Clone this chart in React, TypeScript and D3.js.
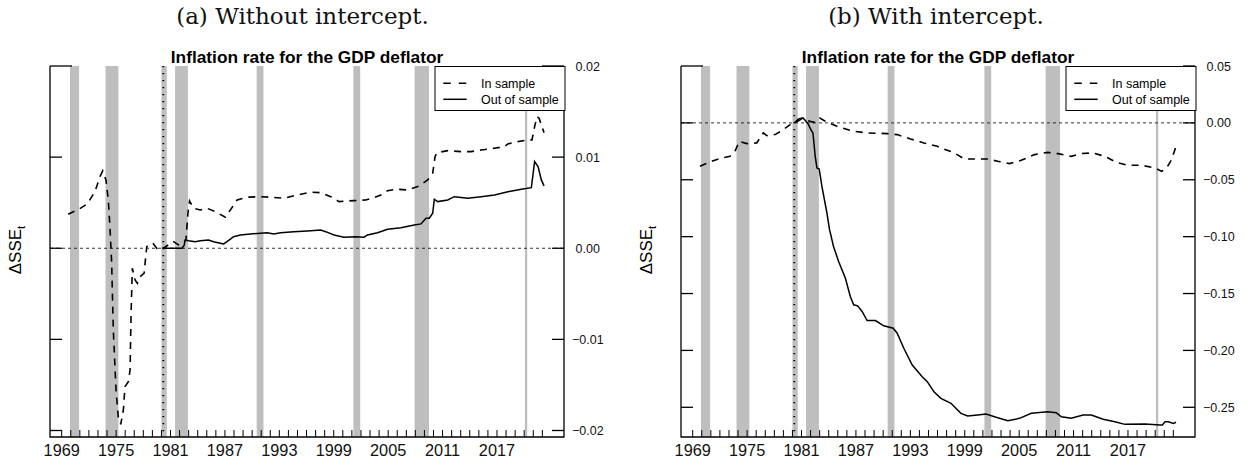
import React from 'react';
import * as d3 from 'd3';

// ---------- data ----------
const yearTickValues = d3.range(1969, 2023);
const yearLabelValues = [1969, 1975, 1981, 1987, 1993, 1999, 2005, 2011, 2017];
const xDomain: [number, number] = [1967.71, 2024.39];

// NBER recessions [start, end] in decimal years
const recessionStart = [1969.917, 1973.833, 1980.0, 1981.5, 1990.5, 2001.167, 2007.917, 2020.083];
const recessionEnd = [1970.917, 1975.25, 1980.583, 1982.917, 1991.25, 2001.917, 2009.5, 2020.333];
const splitYear = 1980.2;

const seriesNames = ['In sample', 'Out of sample'];

const yTicksA = [0.02, 0.01, 0.0, -0.01, -0.02];
const yTicksB = [0.05, 0.0, -0.05, -0.1, -0.15, -0.2, -0.25];

const inSampleA: [number, number][] = [
  [1969.71, 0.00373], [1970.9, 0.00428], [1971.81, 0.00486], [1972.67, 0.00621], [1973.22, 0.00786],
  [1973.52, 0.00849], [1973.88, 0.0075], [1974.14, 0.0053], [1974.32, 0.00237], [1974.51, -0.00165],
  [1974.69, -0.00897], [1974.99, -0.01556], [1975.24, -0.01849], [1975.51, -0.01932], [1975.8, -0.01775],
  [1975.98, -0.01519], [1976.35, -0.01464], [1976.54, -0.01336], [1976.65, -0.00714], [1976.79, -0.0022],
  [1977.09, -0.00348], [1977.34, -0.00384], [1977.64, -0.00312], [1978.09, -0.00274], [1978.23, -0.00128],
  [1978.38, 0.00018], [1978.67, 0.00036], [1979.05, 0.00055], [1979.49, 0.0], [1979.78, 0.00025],
  [1980.23, 0.0], [1980.8, 0.0004], [1981.33, 0.00072], [1981.88, 0.00036], [1982.29, 0.00047],
  [1982.7, 0.00091], [1982.92, 0.00384], [1983.1, 0.00519], [1983.54, 0.00439], [1984.28, 0.0042],
  [1985.02, 0.00439], [1985.94, 0.00402], [1987.05, 0.0034], [1987.6, 0.0042], [1988.34, 0.0053],
  [1989.45, 0.0056], [1990.92, 0.00566], [1992.02, 0.0056], [1993.5, 0.00549], [1994.98, 0.00585],
  [1996.45, 0.00615], [1997.56, 0.0061], [1998.66, 0.00566], [1999.58, 0.00512], [2001.24, 0.00523],
  [2002.53, 0.0053], [2003.27, 0.00549], [2004.2, 0.00585], [2004.93, 0.00632], [2005.85, 0.00648],
  [2007.15, 0.0064], [2008.43, 0.00684], [2009.36, 0.0075], [2009.91, 0.00823], [2010.17, 0.01005],
  [2010.39, 0.01049], [2011.57, 0.01071], [2013.04, 0.0106], [2014.15, 0.0106], [2015.25, 0.01079],
  [2016.73, 0.01098], [2017.83, 0.01115], [2018.21, 0.01145], [2019.31, 0.0117], [2020.42, 0.01189],
  [2020.86, 0.01189], [2021.15, 0.01335], [2021.42, 0.01445], [2021.64, 0.01427], [2021.89, 0.01353],
  [2022.19, 0.01269],
];

const outSampleA: [number, number][] = [
  [1980.22, 0.0], [1982.26, 0.0], [1982.5, 0.0003], [1982.62, 0.00091], [1982.99, 0.00083],
  [1983.73, 0.00072], [1984.28, 0.00083], [1985.2, 0.00091], [1985.75, 0.00072], [1986.49, 0.00055],
  [1986.86, 0.00047], [1987.23, 0.00072], [1987.96, 0.00127], [1988.71, 0.00146], [1989.81, 0.00157],
  [1990.92, 0.00165], [1991.66, 0.00171], [1992.39, 0.00157], [1993.13, 0.00171], [1994.6, 0.00182],
  [1996.08, 0.0019], [1997.56, 0.00199], [1998.11, 0.00182], [1999.03, 0.00146], [2000.13, 0.00121],
  [2001.43, 0.00127], [2002.34, 0.00121], [2002.72, 0.00146], [2003.83, 0.00171], [2004.93, 0.00209],
  [2006.4, 0.00226], [2007.88, 0.00256], [2008.62, 0.00267], [2009.17, 0.00329], [2009.54, 0.00329],
  [2009.91, 0.00384], [2010.09, 0.00538], [2010.46, 0.00512], [2011.57, 0.0053], [2012.3, 0.00566],
  [2013.78, 0.00549], [2015.25, 0.00566], [2016.73, 0.00585], [2018.21, 0.00621], [2019.68, 0.00648],
  [2020.79, 0.00665], [2021.15, 0.00951], [2021.53, 0.00896], [2021.89, 0.0075], [2022.19, 0.00684],
];

const inSampleB: [number, number][] = [
  [1969.79, -0.0382], [1971.08, -0.0338], [1972.19, -0.0308], [1973.11, -0.0294], [1973.66, -0.025],
  [1974.14, -0.0162], [1974.96, -0.0182], [1976.06, -0.0176], [1976.79, -0.0088], [1977.17, -0.0112],
  [1978.09, -0.0103], [1979.0, -0.0059], [1979.75, -0.0015], [1980.22, 0.0], [1981.04, 0.0035],
  [1981.59, 0.0023], [1982.32, 0.0005], [1982.99, 0.0044], [1983.62, 0.0014], [1984.91, -0.003],
  [1986.75, -0.0074], [1988.23, -0.0088], [1990.44, -0.0094], [1991.55, -0.0103], [1993.02, -0.0141],
  [1994.49, -0.0176], [1995.97, -0.0206], [1996.37, -0.022], [1997.85, -0.0264], [1998.96, -0.0317],
  [2000.07, -0.0317], [2001.54, -0.0317], [2002.64, -0.0338], [2003.94, -0.0358], [2005.22, -0.0329],
  [2006.7, -0.0279], [2008.17, -0.0259], [2009.28, -0.027], [2010.75, -0.0294], [2011.86, -0.027],
  [2013.15, -0.0264], [2014.45, -0.0294], [2015.73, -0.0347], [2017.02, -0.0373], [2018.5, -0.0373],
  [2019.98, -0.0396], [2020.71, -0.0426], [2021.26, -0.0396], [2021.81, -0.0323], [2022.3, -0.0206],
];

const outSampleB: [number, number][] = [
  [1980.22, 0.0], [1980.66, 0.0035], [1981.15, 0.0044], [1981.4, 0.0023], [1981.77, -0.0015],
  [1982.07, -0.0065], [1982.26, -0.0088], [1982.51, -0.0294], [1982.7, -0.0396], [1982.95, -0.0405],
  [1983.25, -0.0558], [1983.8, -0.0792], [1984.09, -0.0939], [1984.53, -0.1086], [1985.09, -0.1218],
  [1985.83, -0.1364], [1986.38, -0.1526], [1986.75, -0.1599], [1987.19, -0.1608], [1987.68, -0.1658],
  [1988.23, -0.1737], [1989.15, -0.1737], [1990.07, -0.1784], [1991.11, -0.1805], [1991.55, -0.1849],
  [1992.28, -0.1981], [1993.21, -0.2128], [1994.31, -0.2231], [1994.87, -0.2275], [1995.6, -0.2363],
  [1996.37, -0.2421], [1997.48, -0.2465], [1998.58, -0.2553], [1999.32, -0.2576], [2000.43, -0.2567],
  [2001.35, -0.2559], [2002.46, -0.2588], [2003.75, -0.2618], [2005.04, -0.2597], [2006.33, -0.2553],
  [2008.17, -0.2539], [2009.09, -0.2548], [2009.65, -0.2583], [2010.75, -0.2597], [2012.05, -0.2567],
  [2012.96, -0.2567], [2014.26, -0.2605], [2015.55, -0.2627], [2016.66, -0.265], [2018.87, -0.2647],
  [2020.53, -0.2655], [2020.79, -0.2655], [2021.08, -0.2627], [2021.45, -0.2627], [2022.0, -0.2641],
  [2022.3, -0.2632],
];

// ---------- drawing ----------
const SANS = "'Liberation Sans', Arial, Helvetica, sans-serif";
const SERIF = "'DejaVu Serif', serif";
const fmt = d3.format('.2f');

type PanelProps = {
  dx: number;
  subtitle: string;
  subtitleX: number;
  yDomain: [number, number];
  yRange: [number, number];
  yTicks: number[];
  inSample: [number, number][];
  outSample: [number, number][];
  rightTopLong: boolean;
};

function Panel(p: PanelProps) {
  const left = 50 + p.dx;
  const right = 564 + p.dx;
  const top = 66;
  const bottom = 437;
  const x = d3.scaleLinear().domain(xDomain).range([left, right]);
  const y = d3.scaleLinear().domain(p.yDomain).range(p.yRange);
  const line = d3
    .line<[number, number]>()
    .x((d) => x(d[0]))
    .y((d) => y(d[1]));
  const topTick = d3.max(p.yTicks) as number;
  const legX = right - 129;
  const legY = 66.5;
  return (
    <g>
      <text x={p.subtitleX} y={23.5} fontFamily={SERIF} fontSize={23} textAnchor="middle" fill="#111">
        {p.subtitle}
      </text>
      <text x={(left + right) / 2} y={63} fontFamily={SANS} fontSize={17.3} fontWeight="bold" textAnchor="middle">
        Inflation rate for the GDP deflator
      </text>
      {recessionStart.map((s, i) => (
        <rect key={i} x={x(s)} y={top} width={x(recessionEnd[i]) - x(s)} height={bottom - top} fill="#bebebe" />
      ))}
      <line x1={left} x2={right} y1={y(0)} y2={y(0)} stroke="#000" strokeWidth={0.8} strokeDasharray="3,3" />
      <line
        x1={x(splitYear)}
        x2={x(splitYear)}
        y1={top}
        y2={bottom}
        stroke="#000"
        strokeWidth={1.8}
        strokeDasharray="1.2,5.8"
      />
      <path d={line(p.inSample) || ''} fill="none" stroke="#000" strokeWidth={1.6} strokeDasharray="7,6" />
      <path d={line(p.outSample) || ''} fill="none" stroke="#000" strokeWidth={1.5} />
      {/* axes */}
      <g stroke="#000" strokeWidth={1.3} fill="none">
        <line x1={left} x2={left} y1={top} y2={bottom + 0.6} />
        <line x1={right} x2={right} y1={top} y2={bottom + 0.6} />
        <line x1={left} x2={right} y1={bottom} y2={bottom} />
        {p.yTicks.map((t) => (
          <line key={'l' + t} x1={left} x2={left + (t === topTick ? 22 : 12)} y1={y(t)} y2={y(t)} />
        ))}
        {p.yTicks.map((t) => (
          <line
            key={'r' + t}
            x1={right}
            x2={right - (t === topTick && p.rightTopLong ? 22 : 12)}
            y1={y(t)}
            y2={y(t)}
          />
        ))}
        {yearTickValues.map((t) => (
          <line key={'b' + t} x1={x(t)} x2={x(t)} y1={bottom} y2={bottom - 7} strokeWidth={1} />
        ))}
      </g>
      {p.yTicks.map((t) => (
        <text
          key={'rl' + t}
          x={right + (t < 0 ? 8 : 11.5)}
          y={y(t)}
          dy="0.36em"
          fontFamily={SANS}
          fontSize={12.5}
          fill="#111"
        >
          {fmt(t)}
        </text>
      ))}
      {yearLabelValues.map((t) => (
        <text key={'bl' + t} x={x(t)} y={456} fontFamily={SANS} fontSize={16.3} textAnchor="middle" fill="#111">
          {t}
        </text>
      ))}
      <text transform={`translate(${20.5 + p.dx},250) rotate(-90)`} fontFamily={SANS} fontSize={17} textAnchor="middle">
        ΔSSE
        <tspan fontSize={11.5} dy={4}>
          t
        </tspan>
      </text>
      {/* legend */}
      <rect x={legX} y={legY} width={130} height={44} fill="#fff" stroke="#000" strokeWidth={1} />
      <line x1={legX + 8.3} x2={legX + 31.7} y1={83.3} y2={83.3} stroke="#000" strokeWidth={1.6} strokeDasharray="7.5,8" />
      <line x1={legX + 8.3} x2={legX + 31.7} y1={99.3} y2={99.3} stroke="#000" strokeWidth={1.5} />
      <text x={legX + 46} y={83.3} dy="0.36em" fontFamily={SANS} fontSize={12.5}>
        {seriesNames[0]}
      </text>
      <text x={legX + 46} y={99.3} dy="0.36em" fontFamily={SANS} fontSize={12.5}>
        {seriesNames[1]}
      </text>
    </g>
  );
}

export default function App() {
  return (
    <svg
      width={1247}
      height={462}
      style={{ position: 'absolute', left: 0, top: 0, background: '#fff' }}
      xmlns="http://www.w3.org/2000/svg"
    >
      <rect width={1247} height={462} fill="#fff" />
      <Panel
        dx={0}
        subtitle="(a) Without intercept."
        subtitleX={302.5}
        yDomain={[-0.02, 0.02]}
        yRange={[430.5, 66]}
        yTicks={yTicksA}
        inSample={inSampleA}
        outSample={outSampleA}
        rightTopLong={true}
      />
      <Panel
        dx={631}
        subtitle="(b) With intercept."
        subtitleX={936}
        yDomain={[-0.25, 0.05]}
        yRange={[407.3, 66]}
        yTicks={yTicksB}
        inSample={inSampleB}
        outSample={outSampleB}
        rightTopLong={false}
      />
    </svg>
  );
}
